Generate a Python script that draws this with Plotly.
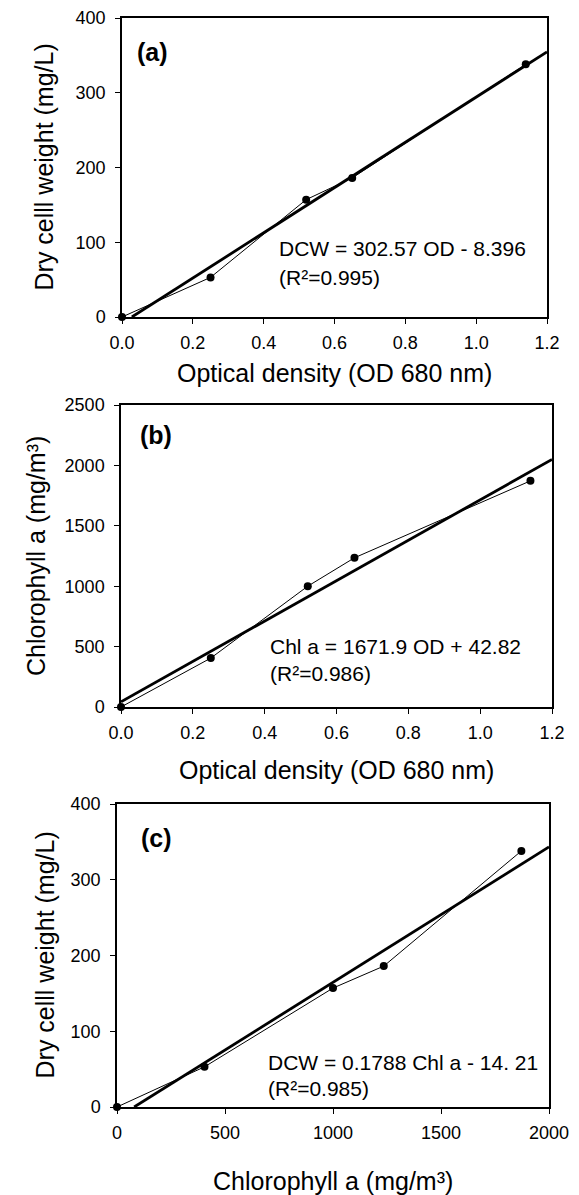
import plotly.graph_objects as go

# ---- data ----
od = [0.0, 0.25, 0.52, 0.65, 1.14]
dcw = [0, 53, 157, 186, 338]
chl = [0, 405, 1000, 1235, 1872]

# regression line end points (from the printed equations)
fit_a_x = [0.0278, 1.2]
fit_a_y = [0, 354.7]
fit_b_x = [0.0, 1.2]
fit_b_y = [42.8, 2049.1]
fit_c_x = [79.5, 2000]
fit_c_y = [0, 343.4]

eq_a = ["DCW = 302.57 OD - 8.396", "(R\u00b2=0.995)"]
eq_b = ["Chl a = 1671.9 OD + 42.82", "(R\u00b2=0.986)"]
eq_c = ["DCW = 0.1788 Chl a - 14. 21", "(R\u00b2=0.985)"]

x_titles = ["Optical density (OD 680 nm)", "Optical density (OD 680 nm)",
            "Chlorophyll a (mg/m\u00b3)"]
y_titles = ["Dry celll weight (mg/L)", "Chlorophyll a (mg/m\u00b3)",
            "Dry celll weight (mg/L)"]
panel_labels = ["(a)", "(b)", "(c)"]

FONT = "Liberation Sans, Arial, sans-serif"
W, H = 579, 1195

fig = go.Figure()

panels = [
    dict(xa="x", ya="y", x=od, y=dcw, fx=fit_a_x, fy=fit_a_y),
    dict(xa="x2", ya="y2", x=od, y=chl, fx=fit_b_x, fy=fit_b_y),
    dict(xa="x3", ya="y3", x=chl, y=dcw, fx=fit_c_x, fy=fit_c_y),
]
for p in panels:
    fig.add_trace(go.Scatter(x=p["fx"], y=p["fy"], mode="lines",
                             line=dict(color="black", width=2.8),
                             xaxis=p["xa"], yaxis=p["ya"], showlegend=False,
                             cliponaxis=True))
    fig.add_trace(go.Scatter(x=p["x"], y=p["y"], mode="lines+markers",
                             line=dict(color="black", width=1.0),
                             marker=dict(color="black", size=8),
                             xaxis=p["xa"], yaxis=p["ya"], showlegend=False,
                             cliponaxis=False))

def px_x(v):
    return v / W

def px_y(v):
    return 1 - v / H

common = dict(showline=True, mirror=True, linecolor="black", linewidth=1.5,
              ticks="outside", ticklen=5, tickwidth=1.2, tickcolor="black",
              showgrid=False, zeroline=False, automargin=False,
              tickfont=dict(family=FONT, size=18, color="black"))

# pixel boxes (left, right, top, bottom)
boxes = [(122, 547, 18, 317), (121, 552, 405, 707), (117, 549, 804, 1107)]

layout = dict(width=W, height=H, margin=dict(l=0, r=0, t=0, b=0),
              paper_bgcolor="white", plot_bgcolor="white",
              font=dict(family=FONT, color="black", size=18))

xr = [[0, 1.2], [0, 1.2], [0, 2000]]
xd = [0.2, 0.2, 500]
xf = [".1f", ".1f", "d"]
yr = [[0, 400], [0, 2500], [0, 400]]
yd = [100, 500, 100]
for i, (l, r, t, b) in enumerate(boxes):
    sx = "" if i == 0 else str(i + 1)
    layout["xaxis" + sx] = dict(common, domain=[px_x(l), px_x(r)], range=xr[i],
                                dtick=xd[i], tick0=0, tickformat=xf[i],
                                ticklabelstandoff=4, anchor="y" + sx)
    layout["yaxis" + sx] = dict(common, domain=[px_y(b), px_y(t)], range=yr[i],
                                dtick=yd[i], tick0=0, ticklabelstandoff=6,
                                anchor="x" + sx)

fig.update_layout(**layout)

ann = []
# panel labels (pixel centres)
for lab, (cx, cy) in zip(panel_labels, [(152, 52), (156, 435), (156, 838)]):
    ann.append(dict(x=px_x(cx), y=px_y(cy), xref="paper", yref="paper",
                    text="<b>%s</b>" % lab, showarrow=False, xanchor="center",
                    yanchor="middle", font=dict(family=FONT, size=25)))

# equations (data coordinates)
eqs = [(eq_a, "x", "y", 0.437, 92, 53.5), (eq_b, "x2", "y2", 0.409, 497, 281),
       (eq_c, "x3", "y3", 690, 59.4, 25)]
for lines, xa, ya, xv, y1, y2 in eqs:
    ann.append(dict(x=xv, y=y1, xref=xa, yref=ya, text=lines[0], showarrow=False,
                    xanchor="left", yanchor="middle", font=dict(family=FONT, size=21)))
    ann.append(dict(x=xv, y=y2, xref=xa, yref=ya, text=lines[1], showarrow=False,
                    xanchor="left", yanchor="middle", font=dict(family=FONT, size=21)))

# axis titles (pixel centres)
for txt, yy, (l, r, t, b) in zip(x_titles, [373, 770, 1181], boxes):
    ann.append(dict(x=px_x((l + r) / 2), y=px_y(yy), xref="paper", yref="paper",
                    text=txt, showarrow=False, xanchor="center", yanchor="middle",
                    font=dict(family=FONT, size=25)))
for txt, xx, (l, r, t, b) in zip(y_titles, [43, 36, 44], boxes):
    ann.append(dict(x=px_x(xx), y=px_y((t + b) / 2), xref="paper", yref="paper",
                    text=txt, showarrow=False, xanchor="center", yanchor="middle",
                    textangle=-90, font=dict(family=FONT, size=25)))

fig.update_layout(annotations=ann)
fig.write_html("out.html")
